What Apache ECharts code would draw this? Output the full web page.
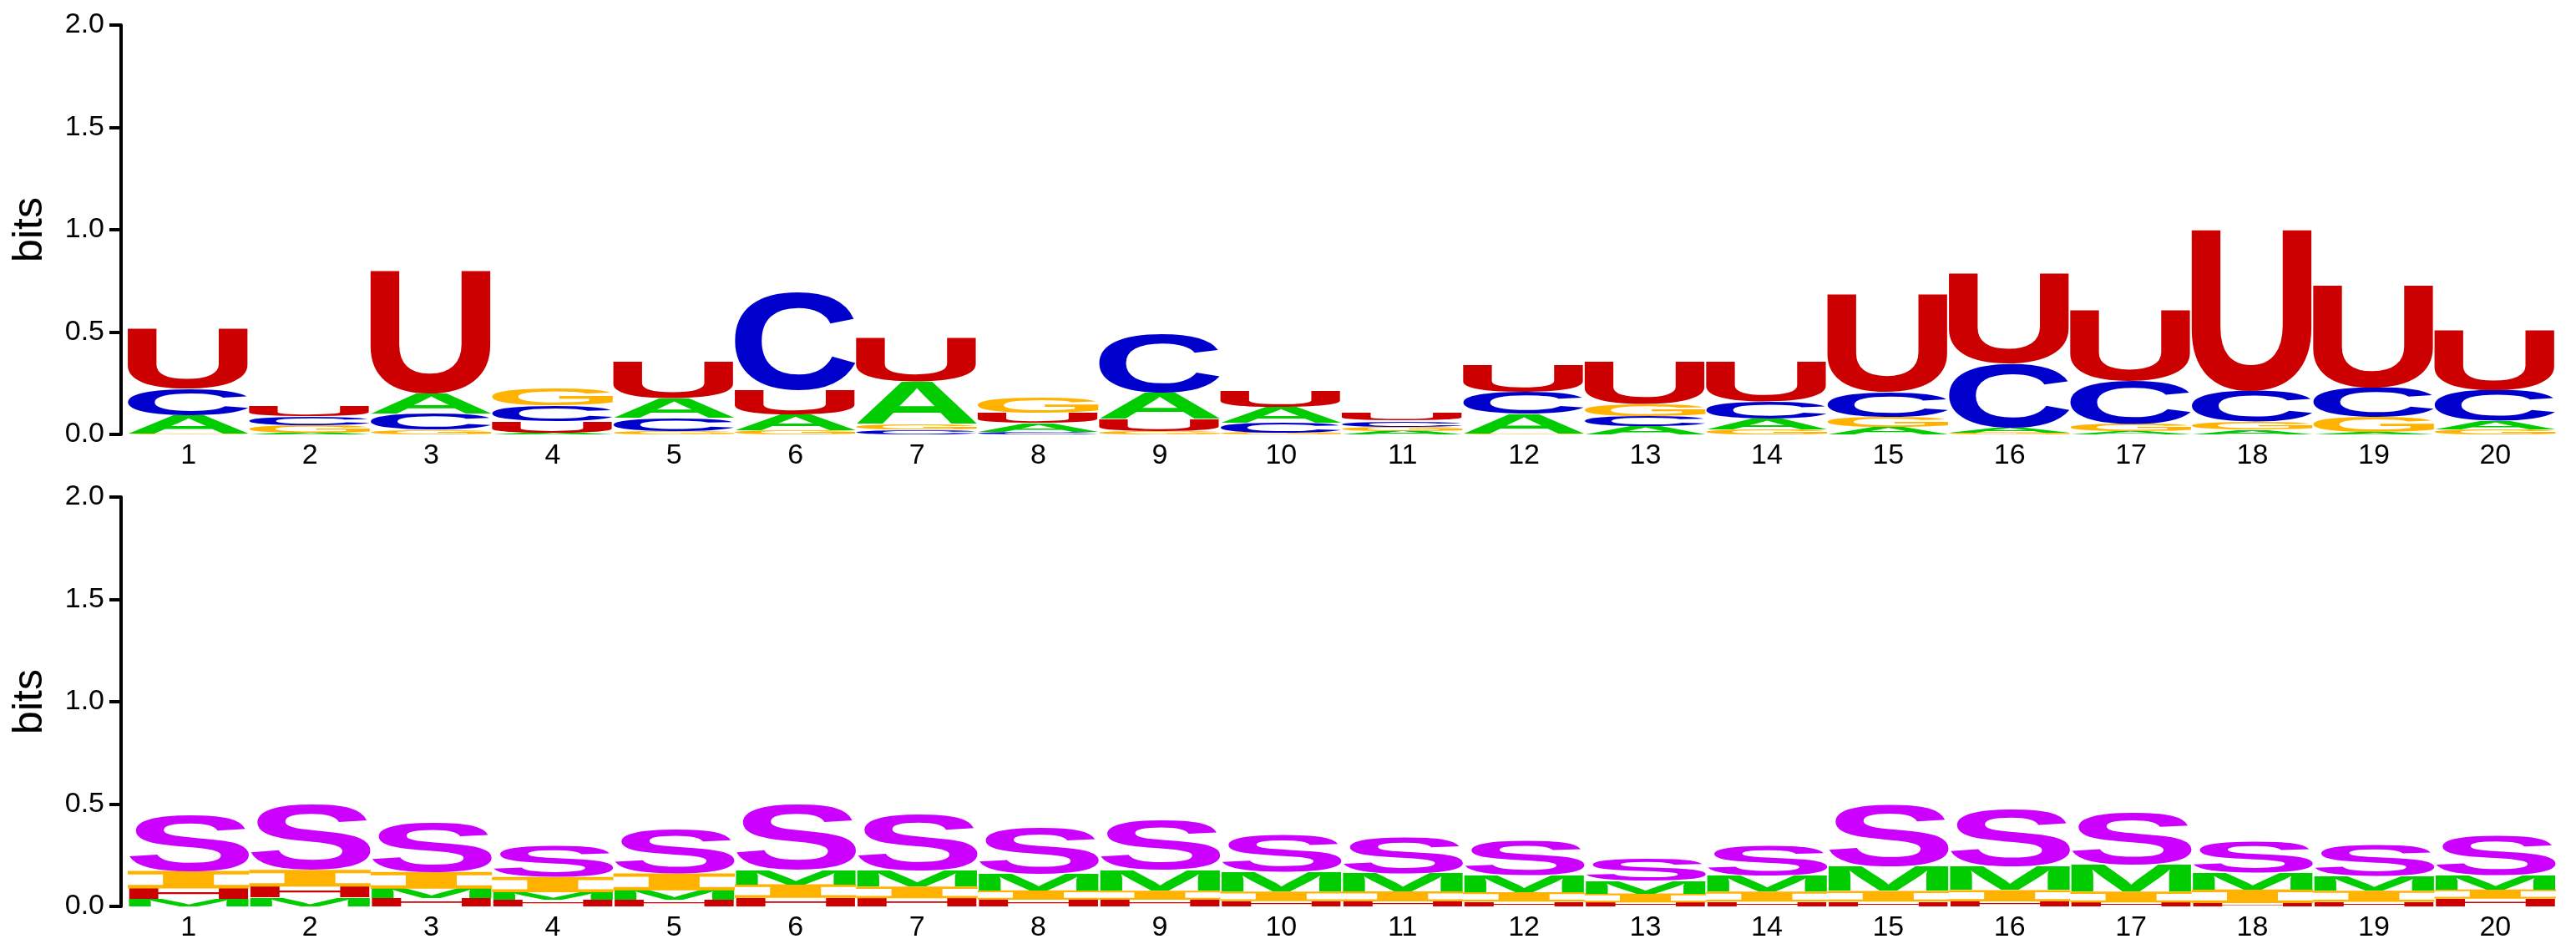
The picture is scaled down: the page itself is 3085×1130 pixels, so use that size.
<!DOCTYPE html>
<html><head><meta charset="utf-8">
<script src="https://cdn.jsdelivr.net/npm/echarts@6/dist/echarts.min.js"></script>
<style>html,body{margin:0;padding:0;background:#fff}#c{width:3085px;height:1130px}</style>
</head><body><div id="c"></div>
<script>
// ---------- data ----------
const positions = ['1','2','3','4','5','6','7','8','9','10','11','12','13','14','15','16','17','18','19','20'];
const yTickLabels = ['0.0','0.5','1.0','1.5','2.0'];

// top panel: nucleotide information (bits)
const nucA = [0.090,0.008,0.098,0.009,0.095,0.077,0.207,0.044,0.128,0.077,0.018,0.093,0.041,0.052,0.038,0.026,0.016,0.023,0.012,0.041];
const nucC = [0.130,0.044,0.080,0.076,0.065,0.478,0.023,0.012,0.284,0.047,0.029,0.109,0.048,0.083,0.125,0.309,0.207,0.150,0.143,0.149];
const nucG = [0.004,0.036,0.023,0.087,0.016,0.019,0.029,0.076,0.017,0.009,0.020,0.006,0.058,0.026,0.047,0.008,0.036,0.039,0.073,0.026];
const nucU = [0.290,0.046,0.600,0.055,0.180,0.120,0.213,0.048,0.060,0.080,0.036,0.133,0.208,0.194,0.478,0.440,0.343,0.787,0.500,0.292];

// bottom panel: structure context information (bits)
const strH = [0.052,0.053,0.042,0.031,0.033,0.042,0.040,0.033,0.033,0.026,0.025,0.023,0.019,0.023,0.023,0.025,0.019,0.016,0.022,0.038];
const strM = [0.036,0.044,0.045,0.038,0.046,0.070,0.078,0.082,0.102,0.096,0.089,0.082,0.061,0.079,0.120,0.117,0.134,0.082,0.071,0.068];
const strI = [0.085,0.082,0.081,0.075,0.082,0.066,0.057,0.046,0.044,0.046,0.048,0.046,0.044,0.049,0.053,0.055,0.053,0.067,0.055,0.045];
const strS = [0.273,0.318,0.243,0.148,0.216,0.318,0.275,0.223,0.242,0.184,0.178,0.164,0.109,0.146,0.300,0.279,0.255,0.150,0.148,0.194];

const topLetters = [
  {letter:'A', color:'#00CC00', values:nucA},
  {letter:'C', color:'#0000CC', values:nucC},
  {letter:'G', color:'#FFB300', values:nucG},
  {letter:'U', color:'#CC0000', values:nucU}
];
const bottomLetters = [
  {letter:'H', color:'#CC0000', values:strH},
  {letter:'M', color:'#00CC00', values:strM},
  {letter:'I', color:'#FFB300', values:strI},
  {letter:'S', color:'#CC00FF', values:strS}
];

// ---------- helpers ----------
const FONT = 'bold 100px "Liberation Sans"';
const I_PATH = 'M0,0 L100,0 L100,20 L71,20 L71,80 L100,80 L100,100 L0,100 L0,80 L29,80 L29,20 L0,20 Z';
const mctx = document.createElement('canvas').getContext('2d');
const metricCache = {};
function metrics(ch){
  if (metricCache[ch]) return metricCache[ch];
  mctx.font = FONT; mctx.textAlign = 'center'; mctx.textBaseline = 'middle';
  const m = mctx.measureText(ch);
  return metricCache[ch] = {l:m.actualBoundingBoxLeft, r:m.actualBoundingBoxRight, a:m.actualBoundingBoxAscent, d:m.actualBoundingBoxDescent};
}
function stack(letters){
  const out = [];
  for (let i = 0; i < positions.length; i++){
    const items = letters.map(s => ({l:s.letter, c:s.color, v:s.values[i]})).sort((a,b) => a.v - b.v);
    let y = 0;
    for (const it of items){ out.push([i, y, y + it.v, it.l, it.c]); y += it.v; }
  }
  return out;
}
const topStack = stack(topLetters);
const bottomStack = stack(bottomLetters);

function makeRender(st){
  return function(params, api){
    const d = st[params.dataIndex];
    const p0 = api.coord([d[0], d[1]]);
    const p1 = api.coord([d[0], d[2]]);
    const bw = api.size([1, 0])[0];
    const X0 = p0[0] - bw/2, W = bw, Yt = p1[1], H = p0[1] - p1[1];
    if (H < 0.3) return null;
    if (d[3] === 'I'){
      return {type:'path', shape:{pathData:I_PATH, x:X0, y:Yt, width:W, height:H, layout:'cover'}, style:{fill:d[4]}};
    }
    const m = metrics(d[3]);
    const sx = W/(m.l + m.r), sy = H/(m.a + m.d);
    return {type:'text', x:X0 + sx*m.l, y:Yt + sy*m.a, scaleX:sx, scaleY:sy,
      style:{text:d[3], font:FONT, fill:d[4], align:'center', verticalAlign:'middle', textAlign:'center', textVerticalAlign:'middle'}};
  };
}

const LEFT = 153, RIGHT = 24;
function yAxis(gi){
  return {
    gridIndex: gi, type:'value', min:0, max:2, interval:0.5, offset:8,
    axisLine:{show:true, lineStyle:{color:'#000', width:4}},
    axisTick:{show:true, length:14, lineStyle:{color:'#000', width:4}},
    axisLabel:{formatter:v => yTickLabels[Math.round(v/0.5)], fontSize:34, color:'#000', fontFamily:'Liberation Sans', margin:20},
    splitLine:{show:false},
    name:'bits', nameLocation:'middle', nameGap:84,
    nameTextStyle:{fontSize:50, color:'#000', fontFamily:'Liberation Sans'}
  };
}
function xAxis(gi){
  return {
    gridIndex: gi, type:'category', data:positions, boundaryGap:true,
    axisLine:{show:false}, axisTick:{show:false}, splitLine:{show:false},
    axisLabel:{fontSize:34, color:'#000', fontFamily:'Liberation Sans', margin:9}
  };
}

const chart = echarts.init(document.getElementById('c'), null, {renderer:'canvas'});
chart.setOption({
  animation:false,
  backgroundColor:'#fff',
  grid:[
    {left:LEFT, right:RIGHT, top:30, height:490},
    {left:LEFT, right:RIGHT, top:595, height:490}
  ],
  xAxis:[xAxis(0), xAxis(1)],
  yAxis:[yAxis(0), yAxis(1)],
  series:[
    {type:'custom', xAxisIndex:0, yAxisIndex:0, renderItem:makeRender(topStack),
     data: topStack.map(d => [d[0], d[1], d[2]]), encode:{x:0, y:[1,2]}},
    {type:'custom', xAxisIndex:1, yAxisIndex:1, renderItem:makeRender(bottomStack),
     data: bottomStack.map(d => [d[0], d[1], d[2]]), encode:{x:0, y:[1,2]}}
  ]
});
</script></body></html>
